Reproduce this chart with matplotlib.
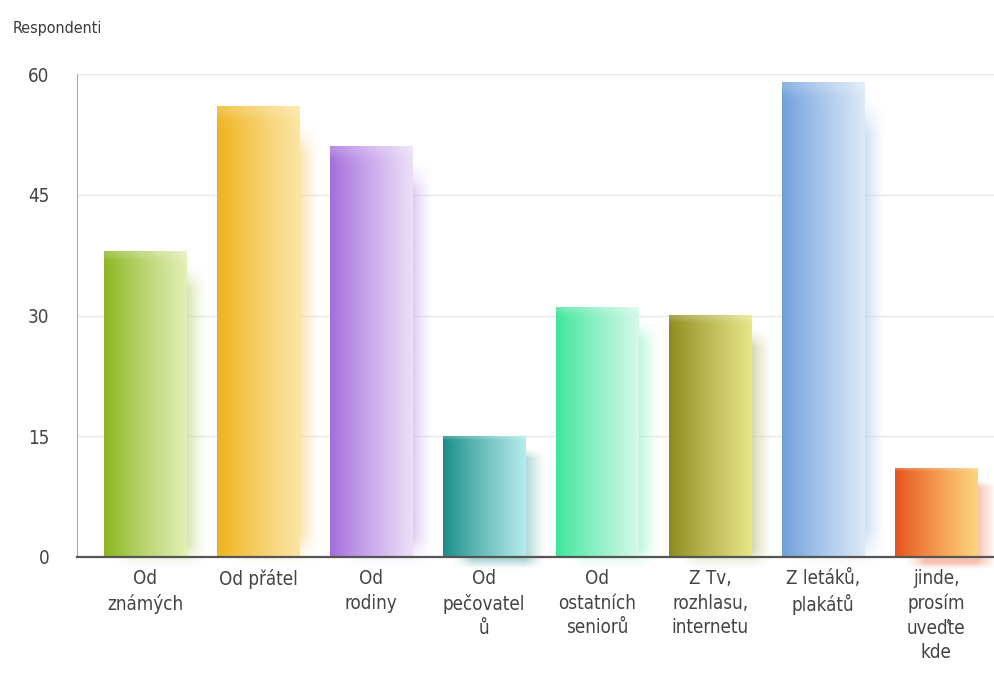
import matplotlib.pyplot as plt
import matplotlib.colors as mcolors
import numpy as np

# Data
kategorie = ["Od\nznámých", "Od přátel", "Od\nrodiny", "Od\npečovatel\nů",
             "Od\nostatních\nseniorů", "Z Tv,\nrozhlasu,\ninternetu",
             "Z letáků,\nplakátů", "jinde,\nprosím\nuveďte\nkde"]
respondenti = [38, 56, 51, 15, 31, 30, 59, 11]
y_ticks = [0, 15, 30, 45, 60]

# gradient colours for each bar (left, right)
barvy_l = ["#8ab51e", "#f0b21c", "#a46ddc", "#1a8c88",
           "#3de69a", "#8c8a1a", "#6d9fdc", "#e8521c"]
barvy_r = ["#e4f0b8", "#fbe6a6", "#ece0f8", "#b6ecec",
           "#d6f9ea", "#e8e68a", "#dde9f7", "#fbd67e"]

plt.rcParams['font.family'] = ['DejaVu Sans']
plt.rcParams['font.stretch'] = 'condensed'

fig = plt.figure(figsize=(9.94, 6.73), dpi=100)
ax = fig.add_axes([0.0775, 0.1724, 0.9225, 0.7176])

x = np.arange(len(kategorie))
w = 0.73

def smooth(t, edge):
    return np.clip(np.minimum(t, 1 - t) / edge, 0, 1) ** 1.3

for i, (v, cl, cr) in enumerate(zip(respondenti, barvy_l, barvy_r)):
    c0 = np.array(mcolors.to_rgb(cl))
    c1 = np.array(mcolors.to_rgb(cr))
    x0, x1 = x[i] - w / 2, x[i] + w / 2

    # blurred shadow
    nx, ny = 60, 120
    tx = np.linspace(0, 1, nx)
    ty = np.linspace(0, 1, ny)
    a = np.outer(smooth(ty, 0.08), smooth(tx, 0.22)) * 0.7
    sh = np.zeros((ny, nx, 4))
    sh[..., :3] = c0 * 0.5 + 0.5
    sh[..., 3] = a
    ax.imshow(sh, extent=(x0 + 0.08, x1 + 0.19, -1.6, v - 1.5), origin='lower',
              aspect='auto', interpolation='bilinear', zorder=2, clip_on=False)

    # bar with horizontal gradient
    g = np.linspace(0, 1, 100) ** 0.9
    img = np.zeros((50, 100, 3))
    img[:] = c0[None, None, :] * (1 - g[None, :, None]) + c1[None, None, :] * g[None, :, None]
    top = np.clip((np.linspace(1, 0, 50) - 0.975) / 0.025, 0, 1)[:, None, None] * 0.2
    img = img * (1 - top) + top
    ax.imshow(img, extent=(x0, x1, 0, v), origin='upper', aspect='auto',
              interpolation='bilinear', zorder=3)

ax.set_xlim(-0.6, 7.51)
ax.set_ylim(0, 60)
ax.set_yticks(y_ticks)
ax.set_yticklabels([str(t) for t in y_ticks])
ax.set_xticks(x)
ax.set_xticklabels(kategorie, linespacing=1.35)
ax.tick_params(axis='both', length=0, labelsize=13.5, colors="#444444")
ax.tick_params(axis='y', pad=20)
ax.tick_params(axis='x', pad=9)
ax.grid(axis='y', color="#e9e9e9", linewidth=1)
ax.set_axisbelow(True)
for s in ['top', 'right']:
    ax.spines[s].set_visible(False)
ax.spines['left'].set_color("#aaaaaa")
ax.spines['bottom'].set_color("#555555")
ax.spines['bottom'].set_linewidth(1.6)
ax.spines['bottom'].set_zorder(5)

fig.text(0.013, 0.957, "Respondenti", fontsize=11.5, color="#3a3a3a", va='center')

fig.savefig("out.png", dpi=100)
